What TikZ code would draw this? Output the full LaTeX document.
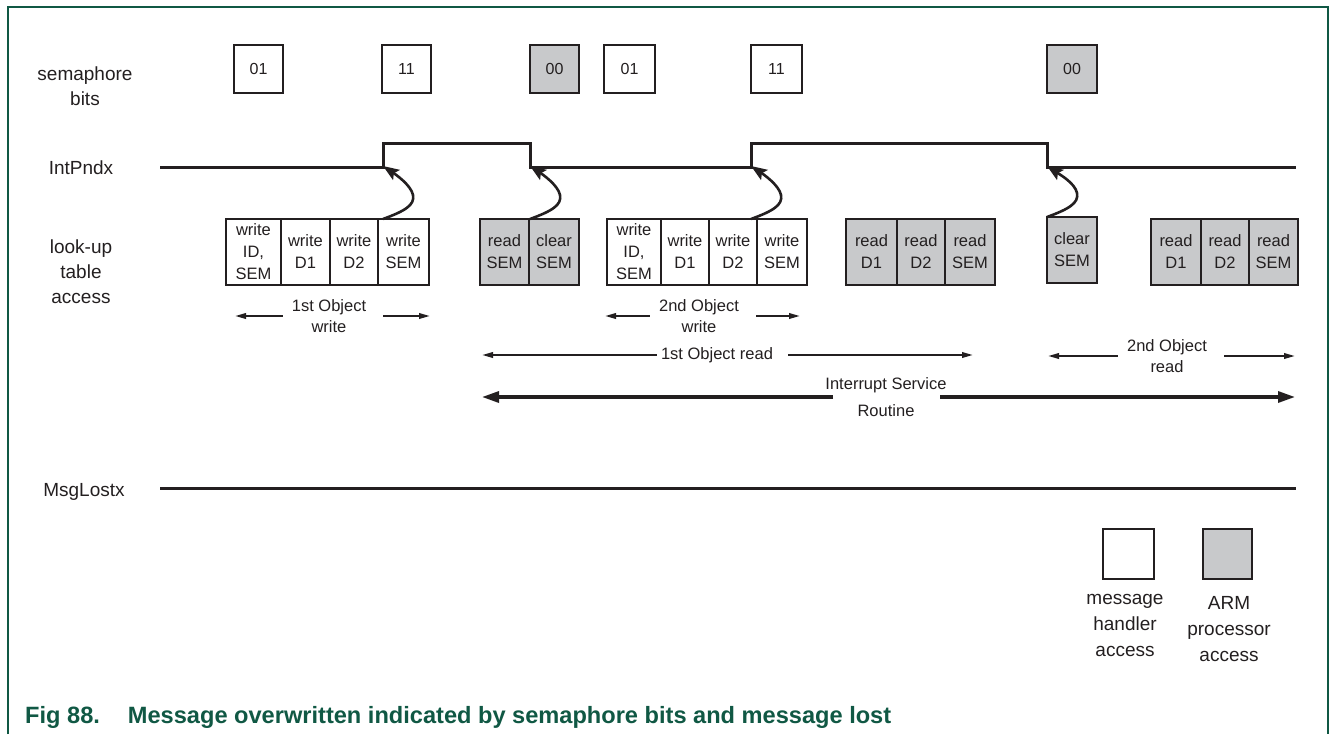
\documentclass[tikz,border=0pt]{standalone}
\usepackage{fontspec}
\setmainfont{Liberation Sans}
\usetikzlibrary{arrows.meta}
\definecolor{figgreen}{RGB}{16,88,68}
\definecolor{accgray}{RGB}{200,201,203}
\definecolor{ink}{RGB}{35,31,32}

\begin{document}
\begin{tikzpicture}[
  x=1pt, y=-1pt, color=ink,
  sembox/.style={draw,fill=white,line width=2.8pt,minimum width=49pt,minimum height=48pt,inner sep=0pt,outer sep=0pt,font=\fontsize{16}{20}\selectfont},
  armsem/.style={sembox,fill=accgray},
  mhbox/.style={draw,fill=white,line width=2.8pt,minimum height=66pt,inner sep=0pt,outer sep=0pt,align=center,font=\fontsize{16.5}{22}\selectfont},
  armbox/.style={mhbox,fill=accgray},
  rowlbl/.style={align=center,font=\fontsize{19}{25}\selectfont},
  spanlbl/.style={align=center,inner xsep=9pt,inner ysep=0pt,font=\fontsize{16.5}{21}\selectfont},
  span/.style={line width=2pt,-{Triangle[length=11pt,width=5.5pt]}},
  israrrow/.style={line width=3.2pt,-{Triangle[length=17pt,width=11pt]}},
  sig/.style={line width=3pt},
  curvy/.style={line width=2.6pt,-{Stealth[length=16pt,width=12pt,inset=3pt]}}
]
  \useasboundingbox (0,0) rectangle (1330,734);
  \draw[figgreen,line width=2pt] (8,734) -- (8,7) -- (1328,7) -- (1328,734);

  \node[rowlbl] (lsem) at (85,86) {semaphore\\bits};
  \node[rowlbl] (lint) at (81,168) {IntPndx};
  \node[rowlbl] (llut) at (81,272) {look-up\\table\\access};
  \node[rowlbl] (lmsg) at (84,492) {MsgLostx};

  \node[sembox] (s1) at (258.5,69) {01};
  \node[sembox] (s2) at (406.5,69) {11};
  \node[armsem] (s3) at (554.5,69) {00};
  \node[sembox,minimum width=51pt] (s4) at (629.5,69) {01};
  \node[sembox,minimum width=51pt] (s5) at (776.5,69) {11};
  \node[armsem,minimum width=50pt] (s6) at (1072,69) {00};

  \coordinate (ip0) at (160,167);
  \coordinate (up1) at (383,167);
  \coordinate (dn1) at (530,167);
  \coordinate (up2) at (751,167);
  \coordinate (dn2) at (1047,167);
  \coordinate (ip1) at (1296,167);
  \draw[sig] (ip0) -- (up1) -- ++(0,-24) -| (dn1) -- (up2) -- ++(0,-24) -| (dn2) -- (ip1);

  \node[mhbox,minimum width=55pt] (w1a) at (253.5,252) {write\\ID,\\SEM};
  \node[mhbox,minimum width=49pt] (w1b) at (305.5,252) {write\\D1};
  \node[mhbox,minimum width=48pt] (w1c) at (354,252) {write\\D2};
  \node[mhbox,minimum width=51pt] (w1d) at (403.5,252) {write\\SEM};

  \node[armbox,minimum width=49pt] (r1a) at (504.5,252) {read\\SEM};
  \node[armbox,minimum width=50pt] (r1b) at (554,252) {clear\\SEM};

  \node[mhbox,minimum width=54pt] (w2a) at (634,252) {write\\ID,\\SEM};
  \node[mhbox,minimum width=48pt] (w2b) at (685,252) {write\\D1};
  \node[mhbox,minimum width=48pt] (w2c) at (733,252) {write\\D2};
  \node[mhbox,minimum width=50pt] (w2d) at (782,252) {write\\SEM};

  \node[armbox,minimum width=51pt] (r2a) at (871.5,252) {read\\D1};
  \node[armbox,minimum width=48pt] (r2b) at (921,252) {read\\D2};
  \node[armbox,minimum width=50pt] (r2c) at (970,252) {read\\SEM};

  \node[armbox,minimum width=50pt] (c2) at (1072,250) {clear\\SEM};

  \node[armbox,minimum width=50pt] (r3a) at (1176,252) {read\\D1};
  \node[armbox,minimum width=48pt] (r3b) at (1225,252) {read\\D2};
  \node[armbox,minimum width=49pt] (r3c) at (1273.5,252) {read\\SEM};

  \draw[curvy] (up1 |- w1d.north) .. controls +(22,-8) and +(2,10) .. ++(30,-24) .. controls +(-2,-10) and +(12,8) .. ([yshift=1pt]up1);
  \draw[curvy] (dn1 |- r1b.north) .. controls +(22,-8) and +(2,10) .. ++(30,-24) .. controls +(-2,-10) and +(12,8) .. ([yshift=1pt]dn1);
  \draw[curvy] (up2 |- w2d.north) .. controls +(22,-8) and +(2,10) .. ++(30,-24) .. controls +(-2,-10) and +(12,8) .. ([yshift=1pt]up2);
  \draw[curvy] (dn2 |- c2.north) .. controls +(22,-8) and +(2,10) .. ++(30,-24) .. controls +(-2,-10) and +(12,8) .. ([yshift=1pt]dn2);

  \node[spanlbl] (ow1) at (329,316) {1st Object\\write};
  \coordinate (ow1l) at (235,316);
  \coordinate (ow1r) at (430,316);
  \draw[span] (ow1.west) -- (ow1l);
  \draw[span] ([xshift=8pt]ow1.east) -- (ow1r);

  \node[spanlbl] (ow2) at (699,316) {2nd Object\\write};
  \coordinate (ow2l) at (605,316);
  \coordinate (ow2r) at (800,316);
  \draw[span] (ow2.west) -- (ow2l);
  \draw[span] ([xshift=8pt]ow2.east) -- (ow2r);

  \node[spanlbl,inner xsep=4pt] (or1) at (717,355) {1st Object read};
  \coordinate (or1l) at (482,355);
  \coordinate (or1r) at (973,355);
  \draw[span] (or1.west) -- (or1l);
  \draw[span] ([xshift=11pt]or1.east) -- (or1r);

  \node[spanlbl] (or2) at (1167,356) {2nd Object\\read};
  \coordinate (or2l) at (1048,356);
  \coordinate (or2r) at (1295,356);
  \draw[span] (or2.west) -- (or2l);
  \draw[span] ([xshift=8pt]or2.east) -- (or2r);

  \node[spanlbl,font=\fontsize{16.5}{27}\selectfont] (isr) at (886,397) {Interrupt Service\\Routine};
  \coordinate (isrl) at (482,397);
  \coordinate (isrr) at (1295,397);
  \draw[israrrow] ([xshift=-53pt]isr.center) -- (isrl);
  \draw[israrrow] ([xshift=54pt]isr.center) -- (isrr);

  \coordinate (ml0) at (160,488);
  \coordinate (ml1) at (1296,488);
  \draw[sig] (ml0) -- (ml1);

  \node[sembox,minimum width=51pt,minimum height=50pt] (kmh) at (1128.5,554) {};
  \node[armsem,minimum width=49pt,minimum height=50pt] (karm) at (1227.5,554) {};
  \node[rowlbl,font=\fontsize{19}{26}\selectfont] (lmh) at (1125,625) {message\\handler\\access};
  \node[rowlbl,font=\fontsize{19}{26}\selectfont] (larm) at (1229,629) {ARM\\processor\\access};

  \node[anchor=west,inner sep=0pt,text=figgreen,font=\bfseries\fontsize{23.6}{24}\selectfont] (cap) at (25,717) {Fig 88.\hspace{28pt}Message overwritten indicated by semaphore bits and message lost};
\end{tikzpicture}
\end{document}
